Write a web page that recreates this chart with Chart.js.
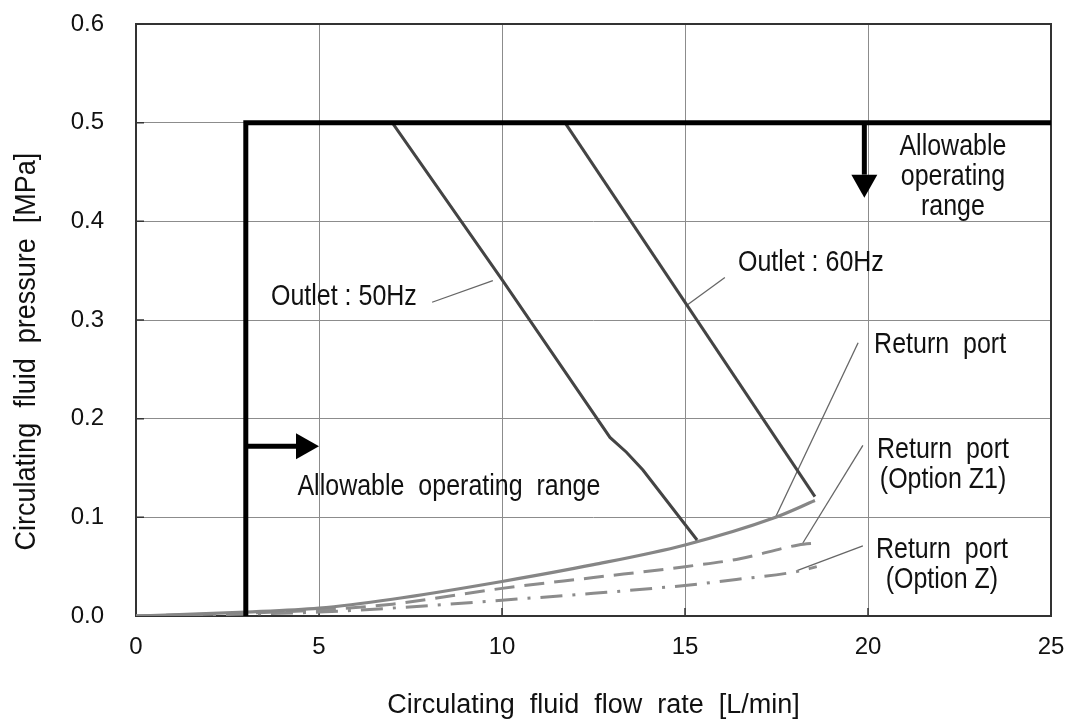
<!DOCTYPE html>
<html>
<head>
<meta charset="utf-8">
<script src="https://cdn.jsdelivr.net/npm/chart.js@4.4.0/dist/chart.umd.min.js"></script>
<style>
  html, body { margin: 0; padding: 0; background: #fff; }
  #chart { display: block; }
</style>
</head>
<body>
<canvas id="chart" width="1072" height="720"></canvas>
<script>
// axis ranges
const xRange = [0, 25, 5];
const yRange = [0, 0.6, 0.1];

// curves: [flow L/min, pressure MPa]
const outlet50Hz = [[7.0, 0.5], [10.0, 0.341], [12.95, 0.181], [13.4, 0.166], [13.85, 0.148], [15.33, 0.077]];
const outlet60Hz = [[11.72, 0.5], [18.55, 0.121]];
const returnPort = [[0, 0], [3, 0.004], [5, 0.008], [7, 0.017], [10, 0.035], [12.5, 0.052], [15, 0.072], [17.4, 0.099], [18.55, 0.117]];
const returnPortZ1 = [[0, 0], [3, 0.003], [5, 0.006], [7, 0.012], [10, 0.028], [12.5, 0.039], [15, 0.05], [16.5, 0.058], [18.1, 0.072], [18.6, 0.074]];
const returnPortZ = [[0, 0], [3, 0.002], [5, 0.004], [7, 0.008], [10, 0.016], [12.5, 0.023], [15, 0.031], [16.4, 0.037], [18.05, 0.045], [18.6, 0.05]];

// allowable operating range limit
const rangeLimit = [[3, 0], [3, 0.5], [25, 0.5]];
const arrowRight = [[3, 0.172], [5, 0.172]];
const arrowDown = [[19.9, 0.5], [19.9, 0.424]];

// leader lines from the labels to the curves
const leaders = [
  [[8.09, 0.318], [9.75, 0.34]],
  [[16.09, 0.343], [15.05, 0.315]],
  [[19.73, 0.277], [17.46, 0.099]],
  [[19.86, 0.173], [18.22, 0.074]],
  [[19.86, 0.071], [18.06, 0.046]],
];

// labels: [x, y, text lines]
const notes = [
  [5.68, 0.323, ["Outlet : 50Hz"]],
  [18.44, 0.358, ["Outlet : 60Hz"]],
  [8.55, 0.131, ["Allowable  operating  range"]],
  [22.32, 0.4753, ["Allowable", "operating", "range"]],
  [21.97, 0.2746, ["Return  port"]],
  [22.05, 0.1682, ["Return  port", "(Option Z1)"]],
  [22.02, 0.0669, ["Return  port", "(Option Z)"]],
];

// y axis title, centred on this pressure value
const yTitle = "Circulating  fluid  pressure  [MPa]";
const yTitleAt = 0.268;

const toXY = (pts) => pts.map((p) => ({ x: p[0], y: p[1] }));
const FONT = '"Liberation Sans", Arial, sans-serif';

const lineSet = (pts, color, width, extra) =>
  Object.assign(
    {
      data: toXY(pts),
      showLine: true,
      borderColor: color,
      borderWidth: width,
      pointRadius: 0,
      fill: false,
    },
    extra || {}
  );

const datasets = [
  lineSet(rangeLimit, "#000", 5, { borderJoinStyle: "miter", order: 0 }),
  lineSet(outlet50Hz, "#444", 3, { order: 1 }),
  lineSet(outlet60Hz, "#444", 3, { order: 1 }),
  lineSet(returnPort, "#868686", 3.2, { cubicInterpolationMode: "monotone", order: 2 }),
  lineSet(returnPortZ1, "#8c8c8c", 3, { borderDash: [20, 10], cubicInterpolationMode: "monotone", order: 3 }),
  lineSet(returnPortZ, "#8c8c8c", 3, { borderDash: [22, 10, 3, 10], cubicInterpolationMode: "monotone", order: 3 }),
];
leaders.forEach((l) => datasets.push(lineSet(l, "#666", 1.3, { order: 4 })));

// frame, inner ticks, arrows and labels
const decorations = {
  id: "decorations",
  beforeDatasetsDraw(chart) {
    const { ctx, chartArea: a } = chart;
    const sx = chart.scales.x, sy = chart.scales.y;
    ctx.save();
    ctx.strokeStyle = "#333";
    ctx.lineWidth = 2;
    ctx.strokeRect(a.left, a.top, a.right - a.left, a.bottom - a.top);
    ctx.lineWidth = 1.5;
    ctx.beginPath();
    sx.ticks.forEach((t) => {
      const x = sx.getPixelForValue(t.value);
      ctx.moveTo(x, a.bottom);
      ctx.lineTo(x, a.bottom - 8);
    });
    sy.ticks.forEach((t) => {
      const y = sy.getPixelForValue(t.value);
      ctx.moveTo(a.left, y);
      ctx.lineTo(a.left + 8, y);
    });
    ctx.stroke();
    ctx.restore();
  },
  afterDatasetsDraw(chart) {
    const { ctx } = chart;
    const sx = chart.scales.x, sy = chart.scales.y;
    const px = (p) => [sx.getPixelForValue(p[0]), sy.getPixelForValue(p[1])];

    // arrows
    [arrowRight, arrowDown].forEach((arr) => {
      const [x0, y0] = px(arr[0]);
      const [x1, y1] = px(arr[1]);
      const ang = Math.atan2(y1 - y0, x1 - x0);
      const headLen = 23, headHalf = 13;
      const bx = x1 - Math.cos(ang) * headLen, by = y1 - Math.sin(ang) * headLen;
      ctx.save();
      ctx.strokeStyle = "#000";
      ctx.fillStyle = "#000";
      ctx.lineWidth = 5;
      ctx.beginPath();
      ctx.moveTo(x0, y0);
      ctx.lineTo(bx, by);
      ctx.stroke();
      ctx.beginPath();
      ctx.moveTo(x1, y1);
      ctx.lineTo(bx - Math.sin(ang) * headHalf, by + Math.cos(ang) * headHalf);
      ctx.lineTo(bx + Math.sin(ang) * headHalf, by - Math.cos(ang) * headHalf);
      ctx.closePath();
      ctx.fill();
      ctx.restore();
    });

    // text
    ctx.save();
    ctx.fillStyle = "#111";
    ctx.font = "25px " + FONT;
    ctx.textAlign = "center";
    ctx.textBaseline = "middle";
    notes.forEach(([x, y, lines]) => {
      const [cx, cy] = px([x, y]);
      lines.forEach((t, i) => {
        ctx.save();
        ctx.translate(cx, cy + i * 30);
        ctx.scale(1, 1.15);
        ctx.fillText(t, 0, 0);
        ctx.restore();
      });
    });
    ctx.restore();
  },
  afterDraw(chart) {
    const { ctx } = chart;
    ctx.save();
    ctx.fillStyle = "#111";
    ctx.font = "27px " + FONT;
    ctx.textAlign = "center";
    ctx.textBaseline = "middle";
    ctx.translate(27, chart.scales.y.getPixelForValue(yTitleAt));
    ctx.rotate(-Math.PI / 2);
    ctx.scale(1, 1.1);
    ctx.fillText(yTitle, 0, 0);
    ctx.restore();
  },
};

const ctx = document.getElementById("chart").getContext("2d");
const myChart = new Chart(ctx, {
  type: "scatter",
  data: { datasets: datasets },
  options: {
    responsive: false,
    animation: false,
    devicePixelRatio: 1,
    layout: { padding: { top: 24, right: 21, left: 0, bottom: 0 } },
    plugins: { legend: { display: false }, tooltip: { enabled: false } },
    scales: {
      x: {
        type: "linear",
        min: xRange[0],
        max: xRange[1],
        ticks: { stepSize: xRange[2], padding: 2, color: "#111", font: { family: FONT, size: 24 } },
        grid: { color: "#8c8c8c", lineWidth: 1, drawTicks: true, tickLength: 15, tickColor: "rgba(0,0,0,0)" },
        border: { display: false },
        title: {
          display: true,
          text: "Circulating  fluid  flow  rate  [L/min]",
          color: "#111",
          font: { family: FONT, size: 27, lineHeight: 1.05 },
          padding: { top: 0, bottom: 0 },
        },
        afterFit: (s) => { s.height = 104; },
      },
      y: {
        type: "linear",
        min: yRange[0],
        max: yRange[1],
        ticks: {
          stepSize: yRange[2],
          padding: 2,
          color: "#111",
          font: { family: FONT, size: 24 },
          callback: (v) => v.toFixed(1),
        },
        grid: { color: "#8c8c8c", lineWidth: 1, drawTicks: true, tickLength: 30, tickColor: "rgba(0,0,0,0)" },
        border: { display: false },
        afterFit: (s) => { s.width = 136; },
      },
    },
  },
  plugins: [decorations],
});
</script>
</body>
</html>
